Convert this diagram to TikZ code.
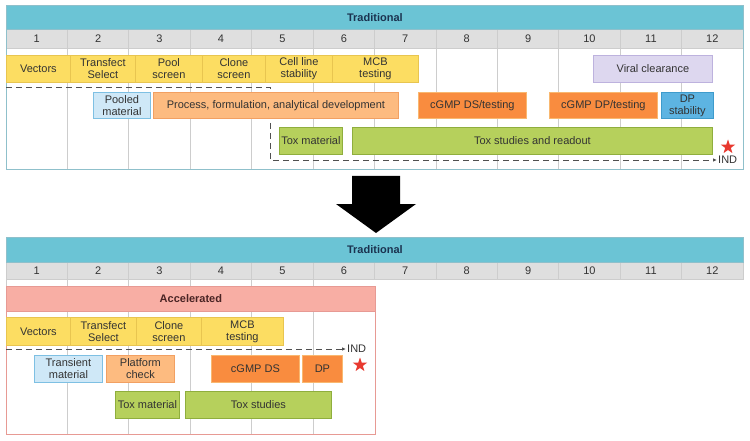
\documentclass[tikz,border=0pt]{standalone}
\usepackage{fontspec}
\setmainfont{Liberation Sans}
\usetikzlibrary{arrows.meta,shapes.geometric}

\definecolor{txt}{HTML}{333333}
\definecolor{titletxt}{HTML}{1B3350}
\definecolor{tealfill}{HTML}{6BC4D5}
\definecolor{tealline}{HTML}{8FC0CB}
\definecolor{rowgray}{HTML}{DFDFDF}
\definecolor{gridgray}{HTML}{CDCDCD}
\definecolor{yelfill}{HTML}{FCDD62}
\definecolor{yelline}{HTML}{E8C550}
\definecolor{lbfill}{HTML}{CFE8F7}
\definecolor{lbline}{HTML}{7EC0E3}
\definecolor{lofill}{HTML}{FDBB80}
\definecolor{loline}{HTML}{F2A062}
\definecolor{ofill}{HTML}{F98C3F}
\definecolor{oline}{HTML}{F9B870}
\definecolor{blfill}{HTML}{5DB4E2}
\definecolor{blline}{HTML}{3E9BCC}
\definecolor{pfill}{HTML}{DDD7EF}
\definecolor{pline}{HTML}{BDB2DE}
\definecolor{gfill}{HTML}{B6D05C}
\definecolor{gline}{HTML}{8FAE3D}
\definecolor{pinkfill}{HTML}{F8AEA4}
\definecolor{pinkline}{HTML}{E79A94}
\definecolor{acctxt}{HTML}{4A2424}
\definecolor{starred}{HTML}{E8392F}
\definecolor{dashgray}{HTML}{505050}

\begin{document}
\begin{tikzpicture}[x=1pt,y=-1pt]
    \tikzstyle{every node}=[font=\fontsize{11}{12}\selectfont, text=txt]
    \tikzstyle{bar}=[draw, line width=0.8pt, inner sep=0pt, align=center, anchor=north west]
    \tikzstyle{titlebar}=[bar, fill=tealfill, draw=tealline, font=\fontsize{11}{12}\selectfont\bfseries, text=titletxt]
    \tikzstyle{ybox}=[bar, fill=yelfill, draw=yelline]
    \tikzstyle{lbbox}=[bar, fill=lbfill, draw=lbline]
    \tikzstyle{lobox}=[bar, fill=lofill, draw=loline]
    \tikzstyle{obox}=[bar, fill=ofill, draw=oline]
    \tikzstyle{blbox}=[bar, fill=blfill, draw=blline]
    \tikzstyle{pbox}=[bar, fill=pfill, draw=pline]
    \tikzstyle{gbox}=[bar, fill=gfill, draw=gline]
    \tikzstyle{indline}=[draw=dashgray, line width=0.8pt, dash pattern=on 6pt off 4pt, -{Latex[length=4pt,width=3.5pt]}]
    \tikzstyle{redstar}=[star, star points=5, star point ratio=2.5, fill=starred, inner sep=0pt, minimum size=15]

    \useasboundingbox (0,0) rectangle (750,441);

    % traditional (top)
    \fill[rowgray] (6,29) rectangle (743,48);
    \foreach \k in {1,...,11}
        \draw[gridgray, line width=0.8pt] (6+61.42*\k,29) -- (6+61.42*\k,170);
    \draw[gridgray, line width=0.8pt] (6,48) -- (743,48);
    \draw[tealline, line width=1pt] (6,29) rectangle (743,170);
    \node[titlebar, minimum width=737, minimum height=24] (trad1) at (6,5) {Traditional};
    \foreach \i in {1,...,12}
        \node (a\i) at (6+61.42*\i-30.71,38.5) {\i};

    % dashed path to IND, under the boxes
    \coordinate (d1start) at (6,87);
    \coordinate (d1corner) at (270,87);
    \node[anchor=west, inner sep=1pt] (ind1) at (717,160) {IND};
    \draw[indline] (d1start) -- (d1corner) |- (ind1.west);

    \node[ybox, minimum width=64, minimum height=27] (vec1) at (6,55) {Vectors};
    \node[ybox, minimum width=65, minimum height=27] (tfx1) at (70,55) {Transfect\\Select};
    \node[ybox, minimum width=67, minimum height=27] (pool1) at (135,55) {Pool\\screen};
    \node[ybox, minimum width=63, minimum height=27] (clone1) at (202,55) {Clone\\screen};
    \node[ybox, minimum width=67, minimum height=27] (cell1) at (265,55) {Cell line\\stability};
    \node[ybox, minimum width=86, minimum height=27] (mcb1) at (332,55) {MCB\\testing};
    \node[pbox, minimum width=119, minimum height=27] (viral) at (593,55) {Viral clearance};

    \node[lbbox, minimum width=57, minimum height=26] (pooled) at (93,92) {Pooled\\material};
    \node[lobox, minimum width=245, minimum height=26] (process) at (153,92) {Process, formulation, analytical development};
    \node[obox, minimum width=108, minimum height=26] (ds1) at (418,92) {cGMP DS/testing};
    \node[obox, minimum width=108, minimum height=26] (dp1) at (549,92) {cGMP DP/testing};
    \node[blbox, minimum width=52, minimum height=26] (dpstab) at (661,92) {DP\\stability};

    \node[gbox, minimum width=63, minimum height=27] (toxmat1) at (279,127) {Tox material};
    \node[gbox, minimum width=360, minimum height=27] (toxread) at (352,127) {Tox studies and readout};

    \node[redstar] (star1) at (728,147) {};

    % arrow between
    \fill[black] (352,176) -- (400,176) -- (400,204) -- (416,204) -- (376,233) -- (336,204) -- (352,204) -- cycle;

    % traditional vs accelerated (bottom)
    \fill[rowgray] (6,262) rectangle (743,279);
    \foreach \k in {1,...,11}
        \draw[gridgray, line width=0.8pt] (6+61.42*\k,262) -- (6+61.42*\k,279);
    \foreach \k in {1,...,5}
        \draw[gridgray, line width=0.8pt] (6+61.42*\k,279) -- (6+61.42*\k,434);
    \draw[gridgray, line width=0.8pt] (6,262) rectangle (743,279);
    \draw[gridgray, line width=0.8pt] (6,279) -- (6,286);
    \node[titlebar, minimum width=737, minimum height=25] (trad2) at (6,237) {Traditional};
    \foreach \i in {1,...,12}
        \node (b\i) at (6+61.42*\i-30.71,270.5) {\i};

    \draw[pinkline, line width=1pt] (6,286) rectangle (375,434);
    \node[bar, fill=pinkfill, draw=pinkline, minimum width=369, minimum height=25, font=\fontsize{11}{12}\selectfont\bfseries, text=acctxt] (acc) at (6,286) {Accelerated};

    \node[ybox, minimum width=64, minimum height=28] (vec2) at (6,317) {Vectors};
    \node[ybox, minimum width=66, minimum height=28] (tfx2) at (70,317) {Transfect\\Select};
    \node[ybox, minimum width=65, minimum height=28] (clone2) at (136,317) {Clone\\screen};
    \node[ybox, minimum width=82, minimum height=28] (mcb2) at (201,317) {MCB\\testing};

    \coordinate (d2start) at (6,349);
    \node[anchor=west, inner sep=1pt] (ind2) at (346,349) {IND};
    \draw[indline] (d2start) -- (ind2.west);

    \node[lbbox, minimum width=68, minimum height=27] (trans) at (34,355) {Transient\\material};
    \node[lobox, minimum width=68, minimum height=27] (platform) at (106,355) {Platform\\check};
    \node[obox, minimum width=88, minimum height=27] (ds2) at (211,355) {cGMP DS};
    \node[obox, minimum width=40, minimum height=27] (dp2) at (302,355) {DP};

    \node[gbox, minimum width=64, minimum height=27] (toxmat2) at (115,391) {Tox material};
    \node[gbox, minimum width=146, minimum height=27] (toxstud) at (185,391) {Tox studies};

    \node[redstar] (star2) at (360,365) {};
\end{tikzpicture}
\end{document}
